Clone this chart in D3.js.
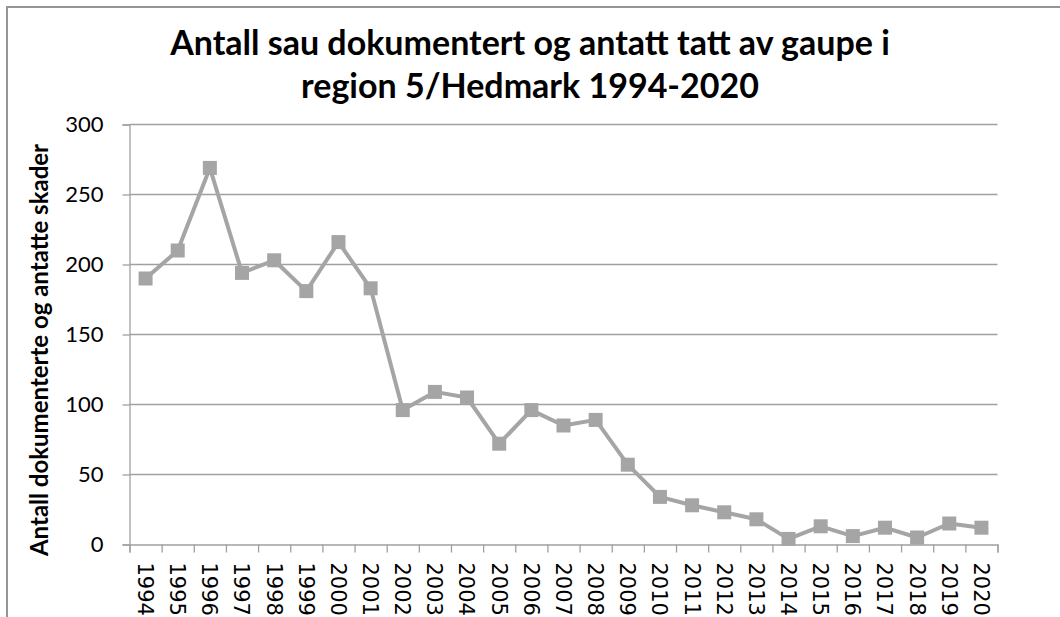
<!DOCTYPE html>
<html>
<head>
<meta charset="utf-8">
<script src="https://cdn.jsdelivr.net/npm/d3@7"></script>
<style>
  body { margin: 0; background: #fff; }
  svg { display: block; }
</style>
</head>
<body>
<svg id="chart"></svg>
<script>
var years = ["1994", "1995", "1996", "1997", "1998", "1999", "2000", "2001", "2002", "2003",
    "2004", "2005", "2006", "2007", "2008", "2009", "2010", "2011", "2012", "2013",
    "2014", "2015", "2016", "2017", "2018", "2019", "2020"];
var skader = [190, 210, 269, 194, 203, 181, 216, 183, 96, 109,
    105, 72, 96, 85, 89, 57, 34, 28, 23, 18,
    4, 13, 6, 12, 5, 15, 12];
var yTicks = [0, 50, 100, 150, 200, 250, 300];
var titleLines = ["Antall sau dokumentert og antatt tatt av gaupe i", "region 5/Hedmark 1994-2020"];
var yTitle = "Antall dokumenterte og antatte skader";

var width = 1060,
    height = 617;
var plotLeft = 129.5, plotRight = 997.5, plotTop = 124.5, plotBottom = 544.5;

var svg = d3.select("#chart")
    .attr("width", width)
    .attr("height", height);

// chart frame (runs off the picture on the right and bottom)
svg.append("rect")
    .attr("x", 7)
    .attr("y", 7)
    .attr("width", 1200)
    .attr("height", 800)
    .style("fill", "none")
    .style("stroke", "#959595")
    .style("stroke-width", 2);

var x = d3.scaleBand()
    .domain(years)
    .range([plotLeft, plotRight]);

var xEdges = d3.scaleLinear()
    .domain([0, years.length])
    .range([plotLeft, plotRight]);

var y = d3.scaleLinear()
    .domain([0, 300])
    .range([plotBottom, plotTop]);

// gridlines
svg.append("g")
    .selectAll("line")
    .data(yTicks.filter(function (d) { return d > 0; }))
    .enter().append("line")
    .attr("x1", plotLeft)
    .attr("x2", plotRight)
    .attr("y1", function (d) { return y(d); })
    .attr("y2", function (d) { return y(d); })
    .style("stroke", "#a0a0a0")
    .style("stroke-width", 1.3);

// y axis
var yAxis = d3.axisLeft(y)
    .tickValues(yTicks)
    .tickSize(7)
    .tickPadding(19);

var gy = svg.append("g")
    .attr("transform", "translate(" + plotLeft + ",0)")
    .call(yAxis);
gy.select(".domain").style("stroke", "#a0a0a0").style("stroke-width", 1.3);
gy.selectAll(".tick line").style("stroke", "#a0a0a0").style("stroke-width", 1.3);
gy.selectAll(".tick text")
    .style("font-family", "Lato, 'Open Sans', sans-serif")
    .style("font-size", "22px")
    .style("fill", "#000");

// x axis: ticks between the categories
var xAxis = d3.axisBottom(xEdges)
    .tickValues(d3.range(years.length + 1))
    .tickSize(8)
    .tickFormat("");

var gx = svg.append("g")
    .attr("transform", "translate(0," + plotBottom + ")")
    .call(xAxis);
gx.select(".domain").style("stroke", "#a0a0a0").style("stroke-width", 1.3);
gx.selectAll(".tick line").style("stroke", "#a0a0a0").style("stroke-width", 1.3);

// x labels, rotated to read downwards
var xLab = d3.axisBottom(x)
    .tickSize(0)
    .tickPadding(0);

var gl = svg.append("g")
    .attr("transform", "translate(0," + plotBottom + ")")
    .call(xLab);
gl.select(".domain").remove();
gl.selectAll(".tick text")
    .attr("transform", "translate(0,18) rotate(90)")
    .attr("x", 0)
    .attr("y", 0)
    .attr("dy", "0.36em")
    .style("text-anchor", "start")
    .style("font-family", "'DejaVu Sans', sans-serif")
    .style("font-size", "21px")
    .style("fill", "#000");

// line and markers
var line = d3.line()
    .x(function (d, i) { return x(years[i]) + x.bandwidth() / 2; })
    .y(function (d) { return y(d); });

svg.append("path")
    .datum(skader)
    .attr("d", line)
    .style("fill", "none")
    .style("stroke", "#a5a5a5")
    .style("stroke-width", 4)
    .style("stroke-linejoin", "round");

var ms = 14;
svg.append("g")
    .selectAll("rect")
    .data(skader)
    .enter().append("rect")
    .attr("x", function (d, i) { return x(years[i]) + x.bandwidth() / 2 - ms / 2; })
    .attr("y", function (d) { return y(d) - ms / 2; })
    .attr("width", ms)
    .attr("height", ms)
    .style("fill", "#a5a5a5");

// title
svg.append("g")
    .selectAll("text")
    .data(titleLines)
    .enter().append("text")
    .attr("x", 530)
    .attr("y", function (d, i) { return 55 + i * 43; })
    .style("text-anchor", "middle")
    .style("font-family", "Lato, 'Open Sans', sans-serif")
    .style("font-weight", "bold")
    .style("font-size", "34px")
    .style("fill", "#000")
    .text(function (d) { return d; });

// y axis title
svg.append("text")
    .attr("transform", "translate(48,350) rotate(-90)")
    .style("text-anchor", "middle")
    .style("font-family", "Lato, 'Open Sans', sans-serif")
    .style("font-weight", "bold")
    .style("font-size", "24px")
    .style("fill", "#000")
    .text(yTitle);
</script>
</body>
</html>
